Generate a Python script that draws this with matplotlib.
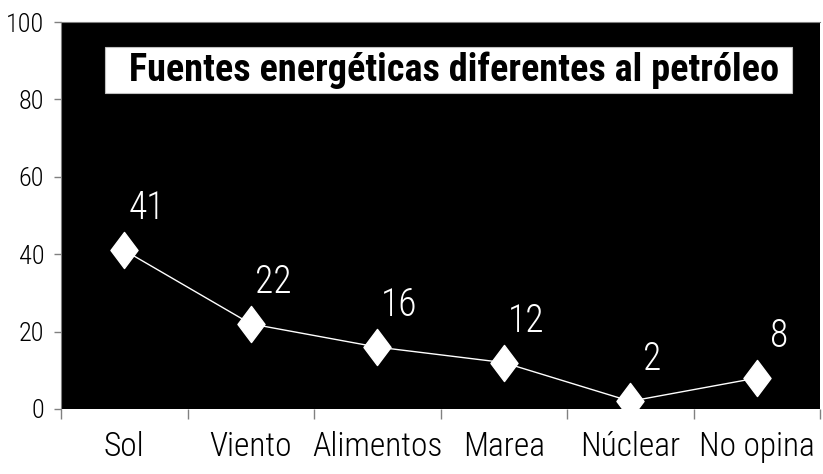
import matplotlib
matplotlib.use("Agg")
import matplotlib.pyplot as plt
from matplotlib.path import Path
from matplotlib.patches import Rectangle

# Data
categories = ["Sol", "Viento", "Alimentos", "Marea", "Núclear", "No opina"]
values = [41, 22, 16, 12, 2, 8]
y_ticks = [0, 20, 40, 60, 80, 100]
title = "Fuentes energéticas diferentes al petróleo"

plt.rcParams["font.family"] = ["Roboto Condensed", "DejaVu Sans"]

# tall diamond marker
diamond = Path([(0, 1), (0.75, 0), (0, -1), (-0.75, 0), (0, 1)],
               [Path.MOVETO, Path.LINETO, Path.LINETO, Path.LINETO, Path.CLOSEPOLY])

fig = plt.figure(figsize=(8.23, 4.74), dpi=100)
ax = fig.add_axes([61 / 823, 65 / 474, 759 / 823, 387 / 474])
ax.set_facecolor("black")

x = list(range(len(categories)))
ax.plot(x, values, color="white", linewidth=1, marker=diamond, markersize=26,
        markerfacecolor="white", markeredgecolor="white")

for xi, v in zip(x, values):
    ax.annotate(str(v), (xi, v), xytext=(16, 30), textcoords="offset points",
                ha="center", va="center", color="white", fontsize=27, fontweight=300)

ax.set_xlim(-0.5, len(categories) - 0.5)
ax.set_ylim(0, 100)
ax.set_yticks(y_ticks)
ax.set_yticklabels([str(t) for t in y_ticks], fontsize=19, fontweight=300)

# category labels centred, tick marks at boundaries
ax.set_xticks(x)
ax.set_xticklabels(categories, fontsize=24, fontweight=300)
ax.tick_params(axis="x", which="major", length=0, pad=16)
ax.set_xticks([i - 0.5 for i in range(len(categories) + 1)], minor=True)
ax.tick_params(axis="x", which="minor", length=7, color="#808080", width=1)
ax.tick_params(axis="y", length=5, color="#808080", width=1, pad=7)

for s in ["right", "bottom"]:
    ax.spines[s].set_visible(False)
ax.spines["left"].set_color("#808080")
ax.spines["top"].set_color("#808080")

# title box
ax.add_patch(Rectangle((0.058, 0.817), 0.905, 0.118, transform=ax.transAxes,
                       facecolor="white", edgecolor="#c0c0c0", linewidth=0.8, zorder=3))
ax.text(0.09, 0.876, title, transform=ax.transAxes, ha="left", va="center",
        fontsize=27.5, fontweight="bold", color="black", zorder=4)

fig.savefig("out.png", dpi=100)
